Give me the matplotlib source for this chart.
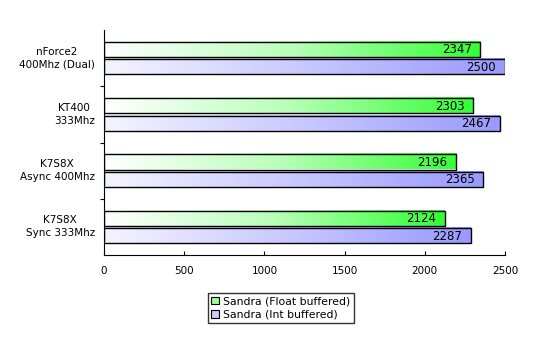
import numpy as np
import matplotlib
matplotlib.use("Agg")
import matplotlib.pyplot as plt
from matplotlib.colors import LinearSegmentedColormap
from matplotlib.patches import Patch

# data
boards = ["nForce2\n400Mhz (Dual)", "KT400\n333Mhz", "K7S8X\nAsync 400Mhz", "K7S8X\nSync 333Mhz"]
float_buf = [2347, 2303, 2196, 2124]
int_buf = [2500, 2467, 2365, 2287]
series_names = ["Sandra (Float buffered)", "Sandra (Int buffered)"]

green_cm = LinearSegmentedColormap.from_list("g", ["#ffffff", "#b8ffb8", "#33ff33"])
blue_cm = LinearSegmentedColormap.from_list("b", ["#f4f4ff", "#c8c8ff", "#9999ff"])

fig = plt.figure(figsize=(5.39, 3.55), dpi=100)
ax = fig.add_axes([104/539, 1-255/355, 401/539, 225/355])

grad = np.linspace(0, 1, 256).reshape(1, -1)
h = 0.27
for i in range(len(boards)):
    for val, cm, y0 in [(float_buf[i], green_cm, i - 0.29), (int_buf[i], blue_cm, i + 0.02)]:
        ax.imshow(grad, cmap=cm, aspect="auto", extent=(0, val, y0 + h, y0),
                  interpolation="bilinear", zorder=2)
        ax.barh(y0 + h/2, val, height=h, facecolor="none", edgecolor="black",
                linewidth=1.0, zorder=3)
        ax.text(val - 55, y0 + h/2 + 0.01, str(val), ha="right", va="center",
                fontsize=8.5, zorder=4)

ax.set_xlim(0, 2500)
ax.set_ylim(3.5, -0.5)
ax.set_xticks([0, 500, 1000, 1500, 2000, 2500])
ax.tick_params(axis="x", direction="in", length=3, labelsize=7.5, pad=8)
ax.set_yticks([0.5, 1.5, 2.5])
ax.set_yticklabels([])
ax.tick_params(axis="y", direction="out", length=3)
for s in ["top", "right"]:
    ax.spines[s].set_visible(False)

for i, lab in enumerate(boards):
    ax.text(-0.023, i, lab, transform=ax.get_yaxis_transform(), ha="right",
            va="center", fontsize=7.5, multialignment="center", linespacing=1.35)

handles = [Patch(facecolor="#99ff99", edgecolor="black", linewidth=0.8),
           Patch(facecolor="#ccccff", edgecolor="black", linewidth=0.8)]
fig.legend(handles, series_names, loc="center", bbox_to_anchor=(281/539, 1-308/355),
           fontsize=7.8, frameon=True, fancybox=False, edgecolor="black",
           handlelength=0.7, handleheight=0.7, handletextpad=0.4,
           borderpad=0.3, labelspacing=0.3)

fig.savefig("out.png", dpi=100)
